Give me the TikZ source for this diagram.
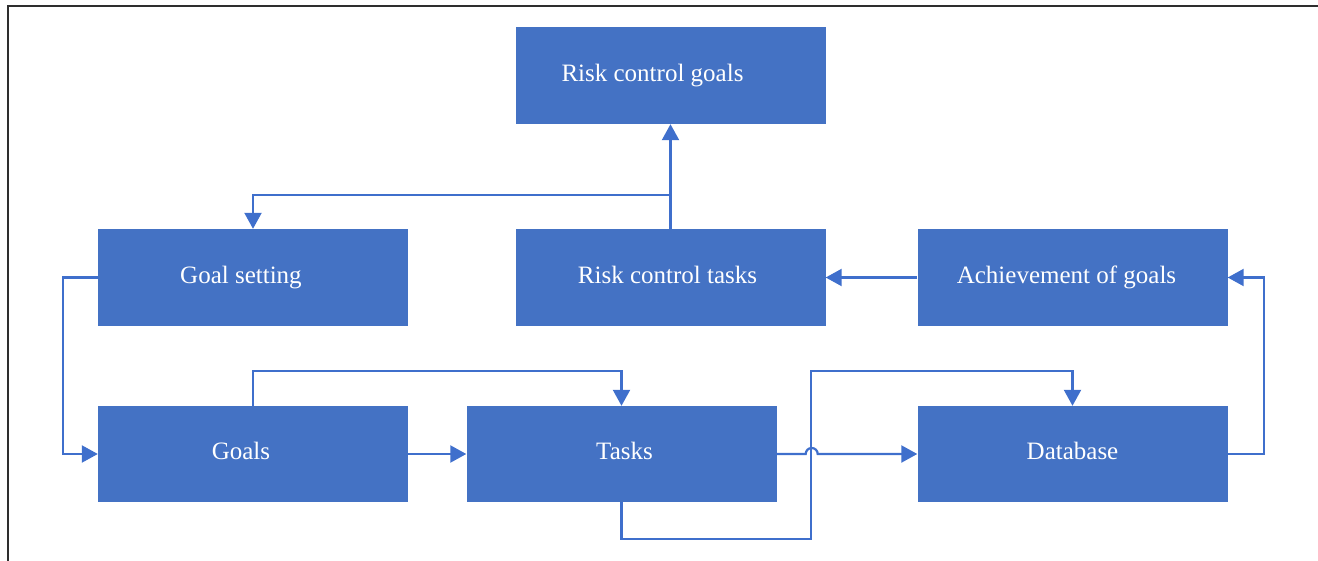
\documentclass[tikz,border=0pt]{standalone}
\usepackage{fontspec}
\setmainfont{Liberation Serif}
\usetikzlibrary{arrows.meta}
\definecolor{boxblue}{HTML}{4472C4}
\definecolor{lineblue}{HTML}{3F6FCC}
\definecolor{framegray}{HTML}{2E2E2E}
\begin{document}
\begin{tikzpicture}[x=1pt,y=1pt,
  box/.style={rectangle, fill=boxblue, draw=none, minimum width=310pt, minimum height=97pt,
    inner sep=0pt, text=white, text height=17pt, text depth=5.5pt,
    font=\fontsize{25}{30}\selectfont},
  conn/.style={draw=lineblue, line width=2.2pt},
  arr/.style={conn, -{Triangle[length=16pt,width=17pt]}},
]
\useasboundingbox (0,0) rectangle (1318,-561);
\draw[framegray, line width=2pt] (7.5,-561) -- (7.5,-6.5) -- (1318,-6.5);

\node[box] (rcg) at (670.5,-75.5) {\kern-18pt Risk control goals\kern18pt};
\node[box] (gs) at (253,-277.5) {\kern-12pt Goal setting\kern12pt};
\node[box] (rct) at (670.5,-277.5) {\kern-3pt Risk control tasks\kern3pt};
\node[box] (ach) at (1072.5,-277.5) {\kern-6pt Achievement of goals\kern6pt};
\node[box, minimum height=96pt] (goals) at (253,-454) {\kern-12pt Goals\kern12pt};
\node[box, minimum height=96pt] (tasks) at (621.5,-454) {\kern3pt Tasks\kern-3pt};
\node[box, minimum height=96pt] (db) at (1072.5,-454) {Database};

\coordinate (j) at (670.5,-195);
\draw[conn] (rct.north) -- (j);
\draw[arr] (j) -- (rcg.south);
\draw[arr] (j) -| (gs.north);

\draw[arr] (gs.west) -- ++(-35,0) |- (goals.west);
\draw[arr] (goals.north) -- ++(0,35) -| (tasks.north);
\draw[arr] (goals.east) -- (tasks.west);
\draw[arr] (tasks.south) -- ++(0,-37) -- ++(189.5,0) -- ++(0,168) -| (db.north);
\draw[arr] (tasks.east) -- ++(29,0) arc[start angle=180,end angle=0,radius=6pt] -- (db.west);
\draw[arr] (db.east) -- ++(36,0) |- (ach.east);
\draw[arr] (ach.west) -- (rct.east);
\end{tikzpicture}
\end{document}
